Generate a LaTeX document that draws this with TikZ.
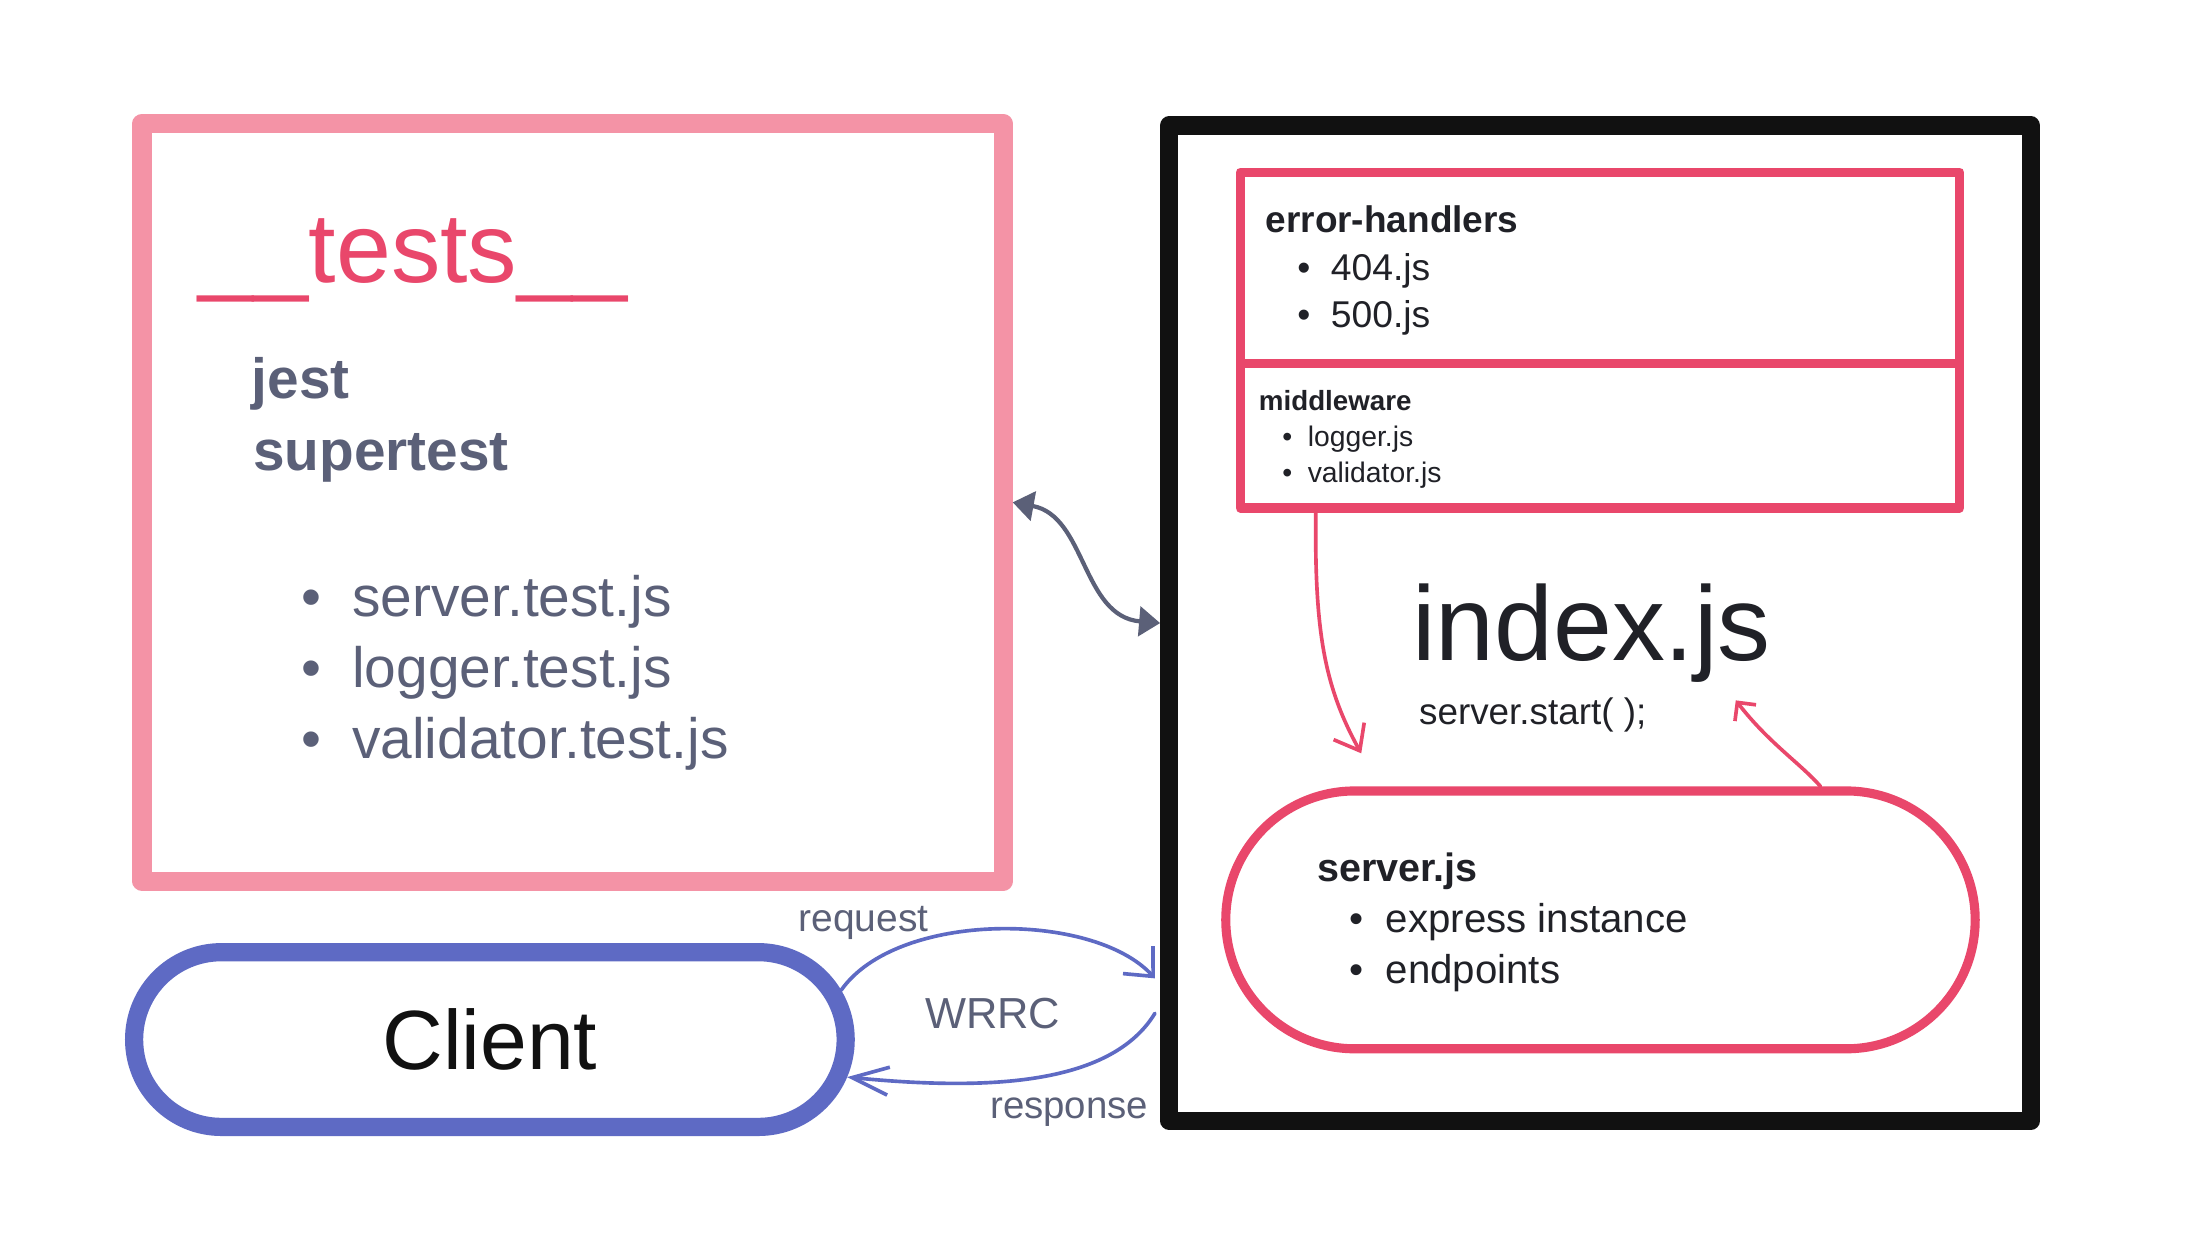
\documentclass[tikz,border=0pt]{standalone}
\usepackage{fontspec}
\setmainfont{Liberation Sans}
\usetikzlibrary{arrows.meta,shapes.misc}
\definecolor{pinkline}{HTML}{F493A6}
\definecolor{redline}{HTML}{E9476B}
\definecolor{greytext}{HTML}{5B6078}
\definecolor{darktext}{HTML}{202127}
\definecolor{blueline}{HTML}{5E6AC4}
\definecolor{blackline}{HTML}{111111}
\newcommand{\fsz}[1]{\fontsize{#1}{#1}\selectfont}
\newcommand{\itm}{\makebox[0.9em][l]{•}}
\begin{document}
\begin{tikzpicture}[x=1pt,y=-1pt,
  box/.style={draw, rectangle, inner sep=0pt, line join=round},
  pill/.style={draw, rounded rectangle, inner sep=0pt},
  txt/.style={anchor=base west, inner sep=0pt},
  mid/.style={anchor=base, inner sep=0pt, text=greytext},
  wire/.style={line width=2.6pt, line cap=round, line join=round}]
\fill[white] (0,0) rectangle (1560,885);
\node[box, pinkline, line width=13.7pt, minimum width=614.5pt, minimum height=540.6pt] (tests) at (408.6,358.5){};
\node[box, blackline, line width=13pt, minimum width=614.9pt, minimum height=710.1pt] (app) at (1141.85,444.65){};
\node[box, redline, line width=6.6pt, minimum width=513.4pt, minimum height=136.4pt] (eh) at (1141.8,191.1){};
\node[box, redline, line width=6.6pt, minimum width=513.4pt, minimum height=103.2pt] (mw) at (1141.8,310.9){};
\node[pill, redline, line width=6.5pt, minimum width=534.8pt, minimum height=184pt] (srv) at (1142.15,656.45){};
\node[pill, draw=blueline, line width=13pt, minimum width=507.8pt, minimum height=124.7pt, text=blackline, font=\fsz{60}] (client) at (349.6,741.85){Client};
\node[txt, redline, font=\fsz{70.5}] (title) at (141.7,201.5){\_\_tests\_\_};
\node[txt, greytext, font=\bfseries\fsz{40.5}] (jest) at (179.5,284.7){jest};
\node[txt, greytext, font=\bfseries\fsz{40.5}] (supertest) at (180.5,335.9){supertest};
\node[txt, greytext, font=\fsz{40.6}] (srvtest) at (214.7,439.6){\itm server.test.js};
\node[txt, greytext, font=\fsz{40.6}] (logtest) at (214.7,490.4){\itm logger.test.js};
\node[txt, greytext, font=\fsz{40.6}] (valtest) at (214.7,541.6){\itm validator.test.js};
\node[txt, darktext, font=\bfseries\fsz{26.4}] (ehtitle) at (903,165.9){error-handlers};
\node[txt, darktext, font=\fsz{26.6}] (e404) at (925.6,199.9){\itm 404.js};
\node[txt, darktext, font=\fsz{26.6}] (e500) at (925.6,233.5){\itm 500.js};
\node[txt, darktext, font=\bfseries\fsz{19.8}] (mwtitle) at (898.2,292.9){middleware};
\node[txt, darktext, font=\fsz{20.2}] (logger) at (914.9,318.7){\itm logger.js};
\node[txt, darktext, font=\fsz{20.2}] (validator) at (914.9,344.1){\itm validator.js};
\node[txt, darktext, font=\fsz{75.5}] (index) at (1007.5,471.1){index.js};
\node[txt, darktext, font=\fsz{26.3}] (start) at (1012.5,517){server.start( );};
\node[txt, darktext, font=\bfseries\fsz{28.2}] (srvtitle) at (940,628.8){server.js};
\node[txt, darktext, font=\fsz{28.7}] (express) at (963,665.4){\itm express instance};
\node[txt, darktext, font=\fsz{28.7}] (endpoints) at (963,701.7){\itm endpoints};
\node[mid, font=\fsz{27.8}] (req) at (616.3,665){request};
\node[mid, font=\fsz{31}] (wrrc) at (708.5,733.7){WRRC};
\node[mid, font=\fsz{27.4}] (res) at (763,798){response};
\coordinate (srvin) at (971.4,537.6);
\coordinate (idxin) at (1238.7,499.8);
\coordinate (reqend) at (824.2,698.2);
\coordinate (resbeg) at (824.2,723.1);
\draw[wire, greytext, line width=3pt, {Triangle[length=15pt,width=21pt]}-{Triangle[length=15pt,width=21pt]}] (tests.east) .. controls (775,368) and (772,440) .. (app.west);
\draw[wire, redline, -{Straight Barb[length=16pt,width=25pt]}] ([xshift=-202.8pt]mw.south) .. controls (938,450) and (945,490) .. (srvin);
\draw[wire, redline, -{Straight Barb[length=9.5pt,width=19pt]}] ([xshift=157pt]srv.north) .. controls (1285,545) and (1262,530) .. (idxin);
\draw[wire, blueline, -{Straight Barb[length=16pt,width=29pt]}] (client.8) .. controls (640,650) and (780,650) .. (reqend);
\draw[wire, blueline, -{Straight Barb[length=26pt,width=20pt]}] (resbeg) .. controls (792,776) and (700,778) .. (client.-6);
\end{tikzpicture}
\end{document}
